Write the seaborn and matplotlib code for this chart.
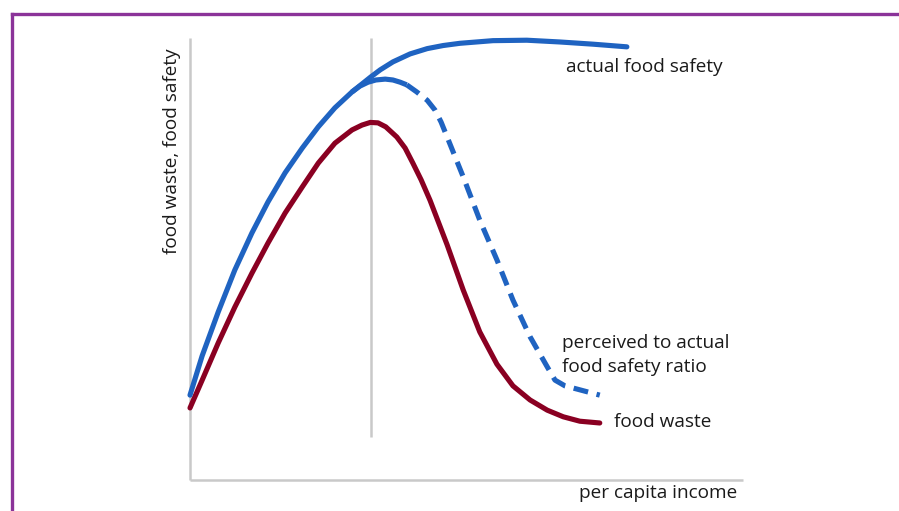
import matplotlib
matplotlib.use("Agg")
import matplotlib.pyplot as plt
from matplotlib.lines import Line2D
import seaborn as sns
import pandas as pd

# ---- data (arbitrary units 0-100) ----
actual_income = [0, 2.2, 5.1, 8.1, 11.2, 14.1, 17.2, 20.3, 23.2, 26.2, 29.3, 32.7,
                 34.4, 36.7, 39.8, 42.9, 45.8, 48.8, 54.8, 60.9, 66.9, 72.9, 79.0]
actual_safety = [19.2, 28.1, 38.0, 47.5, 55.9, 62.9, 69.5, 75.1, 79.9, 84.2, 87.8, 91.2,
                 92.8, 94.6, 96.4, 97.6, 98.3, 98.8, 99.4, 99.5, 99.1, 98.6, 98.0]

waste_income = [0, 2.2, 5.1, 8.1, 11.2, 14.1, 17.2, 20.3, 23.2, 26.2, 29.3, 31.1,
                32.6, 34.0, 35.4, 37.4, 38.9, 40.3, 41.8, 43.4, 46.5, 49.4, 52.4,
                55.5, 58.4, 61.5, 64.6, 67.5, 70.5, 74.1]
waste_value = [16.3, 22.6, 31.0, 39.1, 46.8, 53.6, 60.4, 66.3, 71.7, 76.2, 79.2, 80.3,
               80.9, 80.8, 79.9, 77.6, 75.1, 71.7, 67.9, 63.3, 53.2, 43.0, 33.5,
               26.2, 21.3, 18.1, 15.8, 14.3, 13.3, 12.9]

perceived_income = [29.3, 30.7, 32.2, 33.6, 35.3, 36.7, 38.0, 39.2, 41.0, 42.9, 44.3,
                    45.4, 46.5, 49.4, 52.4, 55.5, 58.4, 61.5, 64.6, 66.0, 67.8, 70.5,
                    74.1]
perceived_ratio = [87.8, 89.1, 90.0, 90.5, 90.7, 90.5, 90.0, 89.4, 87.8, 85.9, 83.7,
                   81.0, 77.6, 68.6, 58.8, 49.8, 40.7, 32.4, 25.6, 22.6, 21.3, 20.4,
                   19.2]
perceived_solid_until = 39.2   # first part of the branch is drawn solid

income_marker = 32.7           # vertical reference line
marker_bottom = 9.7

labels = {
    "actual": "actual food safety",
    "perceived": "perceived to actual\nfood safety ratio",
    "waste": "food waste",
    "x": "per capita income",
    "y": "food waste, food safety",
}

BLUE = "#1f63c1"
RED = "#8a0022"
GRAY = "#c9c9c9"
PURPLE = "#8b3399"

sns.set_style("white")
plt.rcParams["font.family"] = ["Open Sans", "DejaVu Sans"]

W, H = 899, 511
fig = plt.figure(figsize=(W / 100, H / 100), dpi=100)
# axes: income 0..100 -> px 190..743 ; value 0..100 -> px 480..38
ax = fig.add_axes([190 / W, (H - 480) / H, 553 / W, 442 / H])

lw = 3.7

# axes lines
ax.plot([0, 0], [0, 100], color=GRAY, lw=1.8, clip_on=False, solid_capstyle="butt")
ax.plot([0, 100], [0, 0], color=GRAY, lw=1.8, clip_on=False, solid_capstyle="butt")
ax.plot([income_marker, income_marker], [marker_bottom, 100], color=GRAY, lw=1.8,
        clip_on=False, solid_capstyle="butt")

df_a = pd.DataFrame({"income": actual_income, "v": actual_safety})
df_w = pd.DataFrame({"income": waste_income, "v": waste_value})
df_p = pd.DataFrame({"income": perceived_income, "v": perceived_ratio})
p_solid = df_p[df_p["income"] <= perceived_solid_until]
p_dash = df_p[df_p["income"] >= perceived_solid_until]

sns.lineplot(data=df_w, x="income", y="v", sort=False, color=RED, lw=lw, ax=ax,
             solid_capstyle="round", solid_joinstyle="round", clip_on=False)
sns.lineplot(data=p_solid, x="income", y="v", sort=False, color=BLUE, lw=lw, ax=ax,
             solid_capstyle="butt", solid_joinstyle="round", clip_on=False)
sns.lineplot(data=p_dash, x="income", y="v", sort=False, color=BLUE, lw=lw, ax=ax,
             dashes=False, clip_on=False)
ax.lines[-1].set_dashes((2.9, 1.7))
ax.lines[-1].set_dash_capstyle("butt")
ax.lines[-1].set_dash_joinstyle("round")
sns.lineplot(data=df_a, x="income", y="v", sort=False, color=BLUE, lw=lw, ax=ax,
             solid_capstyle="round", solid_joinstyle="round", clip_on=False)
ax.set_xlim(0, 100)
ax.set_ylim(0, 100)
ax.axis("off")

fs = 13.7
tc = "#1a1a1a"
ax.text(68.0, 93.4, labels["actual"], fontsize=fs, color=tc, ha="left", va="center")
ax.text(67.3, 28.3, labels["perceived"], fontsize=fs, color=tc, ha="left", va="center",
        linespacing=1.4)
ax.text(76.7, 13.1, labels["waste"], fontsize=fs, color=tc, ha="left", va="center")
ax.text(98.9, -2.9, labels["x"], fontsize=fs, color=tc, ha="right", va="center",
        clip_on=False)
ax.text(-3.3, 74.4, labels["y"], fontsize=fs, color=tc, ha="center", va="center",
        rotation=90, clip_on=False)

# purple frame (top and left edges visible)
fig.add_artist(Line2D([11.5 / W, 1.0], [1 - 14 / H, 1 - 14 / H], color=PURPLE, lw=2.4,
                      transform=fig.transFigure, solid_capstyle="projecting"))
fig.add_artist(Line2D([11.5 / W, 11.5 / W], [0.0, 1 - 14 / H], color=PURPLE, lw=2.4,
                      transform=fig.transFigure, solid_capstyle="projecting"))

fig.savefig("out.png", dpi=100)
